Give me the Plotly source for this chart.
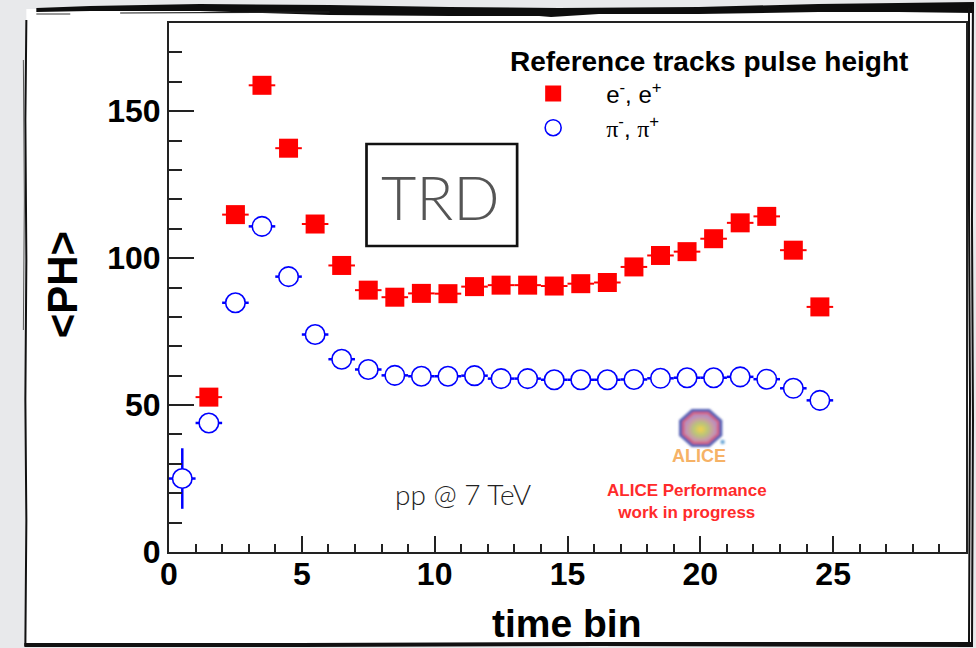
import math
import base64
import plotly.graph_objects as go

# ---------------- data: mean pulse height <PH> per TRD time bin ----------------
pion_bins = [0.5, 1.5, 2.5, 3.5, 4.5, 5.5, 6.5, 7.5, 8.5, 9.5, 10.5, 11.5, 12.5,
             13.5, 14.5, 15.5, 16.5, 17.5, 18.5, 19.5, 20.5, 21.5, 22.5, 23.5, 24.5]
pion_ph = [25.0, 43.9, 84.8, 110.8, 93.7, 74.0, 65.6, 62.1, 60.1, 59.8, 59.8, 60.0, 59.0,
           59.0, 58.6, 58.6, 58.6, 58.7, 59.1, 59.3, 59.3, 59.6, 58.8, 55.7, 51.6]
pion_err = [10.3, 0.8, 0.6, 0.6, 0.5, 0.4, 0.4, 0.3, 0.3, 0.3, 0.3, 0.3, 0.3,
            0.3, 0.3, 0.3, 0.3, 0.3, 0.3, 0.3, 0.3, 0.3, 0.3, 0.3, 0.3]

elec_bins = [1.5, 2.5, 3.5, 4.5, 5.5, 6.5, 7.5, 8.5, 9.5, 10.5, 11.5, 12.5,
             13.5, 14.5, 15.5, 16.5, 17.5, 18.5, 19.5, 20.5, 21.5, 22.5, 23.5, 24.5]
elec_ph = [52.7, 114.8, 158.8, 137.4, 111.6, 97.5, 89.1, 86.7, 88.0, 87.9, 90.3, 90.8,
           90.8, 90.5, 91.3, 91.7, 97.0, 100.9, 102.2, 106.6, 112.0, 114.2, 102.7, 83.4]
elec_err = [2.0, 1.5, 1.5, 1.2, 1.0, 1.0, 0.9, 0.9, 0.9, 0.9, 0.9, 0.9,
            0.9, 0.9, 0.9, 0.9, 1.0, 1.0, 1.0, 1.0, 1.1, 1.1, 1.0, 1.0]

BIN_HALF_WIDTH = 0.5

x_tick_vals = [0, 5, 10, 15, 20, 25]
y_tick_vals = [0, 50, 100, 150]

# ---------------- canvas geometry (pixels) ----------------
FIG_W, FIG_H = 976, 648
L, R, T, B = 169, 968, 23, 552          # plot frame edges
W, H = R - L, B - T


def px(x):
    return (x - L) / W


def py(y):
    return (B - y) / H


def poly(points, **kw):
    d = "M " + " L ".join(f"{px(a):.5f},{py(b):.5f}" for a, b in points) + " Z"
    return dict(type="path", xref="paper", yref="paper", path=d, **kw)


def line_path(points, **kw):
    d = "M " + " L ".join(f"{px(a):.5f},{py(b):.5f}" for a, b in points)
    return dict(type="path", xref="paper", yref="paper", path=d, **kw)


FONT = "Liberation Sans"

fig = go.Figure()

fig.add_trace(go.Scatter(
    x=elec_bins, y=elec_ph, mode="markers",
    name="e<sup>-</sup>, e<sup>+</sup>",
    marker=dict(symbol="square", size=19, color="#ff0000", line=dict(width=0)),
    error_x=dict(type="constant", value=BIN_HALF_WIDTH, color="#ff0000", thickness=2, width=0),
    error_y=dict(type="data", array=elec_err, color="#ff0000", thickness=2, width=0),
))
fig.add_trace(go.Scatter(
    x=pion_bins, y=pion_ph, mode="markers",
    name='<span style="font-family:Liberation Serif">π</span><sup>-</sup>, '
         '<span style="font-family:Liberation Serif">π</span><sup>+</sup>',
    marker=dict(symbol="circle", size=19.5, color="white", line=dict(width=1.6, color="#0000ff")),
    error_x=dict(type="constant", value=BIN_HALF_WIDTH, color="#0000ff", thickness=2.5, width=0),
    error_y=dict(type="data", array=pion_err, color="#0000ff", thickness=2.5, width=0),
))

axis_font = dict(family=FONT, size=32, color="black", weight="bold")

fig.update_xaxes(
    range=[0, 30], tickmode="array", tickvals=x_tick_vals,
    ticks="inside", ticklen=16, tickwidth=1.5, tickcolor="#222",
    showline=True, linewidth=2, linecolor="#222", mirror=True,
    showgrid=False, zeroline=False, tickfont=axis_font, ticklabelstandoff=-7,
    minor=dict(dtick=1, tick0=0, ticks="inside", ticklen=8, tickwidth=1.5,
               tickcolor="#222", showgrid=False),
)
fig.update_yaxes(
    range=[0, 180], tickmode="array", tickvals=y_tick_vals,
    ticks="inside", ticklen=25, tickwidth=1.5, tickcolor="#222",
    showline=True, linewidth=2, linecolor="#222", mirror=True,
    showgrid=False, zeroline=False, tickfont=axis_font,
    minor=dict(dtick=10, tick0=0, ticks="inside", ticklen=13, tickwidth=1.5,
               tickcolor="#222", showgrid=False),
)

# ---------------- sketch-style frame around the canvas ----------------
shapes = [
    dict(type="rect", xref="paper", yref="paper", layer="below",
         x0=px(26), x1=px(973), y0=py(644), y1=py(9),
         fillcolor="white", line=dict(width=0)),
    # top stroke
    poly([(36, 8), (90, 6), (200, 4), (330, 5), (450, 7), (560, 8), (700, 7), (820, 4),
          (900, 3), (976, 2), (976, 13), (900, 12), (820, 12), (700, 14), (600, 14),
          (552, 17), (540, 16), (450, 16), (330, 15), (200, 11), (90, 11), (36, 12)],
         fillcolor="#0d0d0d", line=dict(width=0)),
    line_path([(36, 14), (70, 14)], line=dict(color="#333", width=1)),
    line_path([(120, 13), (330, 12)], line=dict(color="#222", width=1.2)),
    # left stroke
    line_path([(26, 20), (25, 120), (26, 260), (25, 400), (26, 520), (25, 646)],
              line=dict(color="#111", width=2)),
    line_path([(23, 60), (24, 200), (23, 330)], line=dict(color="#555", width=1)),
    # right strokes
    line_path([(971, 8), (971, 200), (972, 400), (971, 645)], line=dict(color="#111", width=2)),
    line_path([(975, 6), (974, 220), (975, 420), (974, 646)], line=dict(color="#111", width=2)),
    # bottom stroke
    poly([(24, 643), (300, 643), (600, 642), (975, 642), (975, 647), (600, 646),
          (300, 647), (24, 647)], fillcolor="#111", line=dict(width=0)),
    # TRD label box
    dict(type="rect", xref="paper", yref="paper",
         x0=px(367), x1=px(518), y0=py(246), y1=py(144),
         line=dict(color="#111", width=2.7), fillcolor="rgba(0,0,0,0)"),
]

# ---------------- ALICE logo (soft, blurred emblem) ----------------
def octagon(cx, cy, rx, ry):
    pts = []
    for k in range(8):
        a = math.radians(22.5 + 45 * k)
        pts.append(f"{cx + rx * math.cos(a):.2f},{cy + ry * math.sin(a):.2f}")
    return " ".join(pts)


cx, cy = 32, 29
svg = f"""<svg xmlns='http://www.w3.org/2000/svg' width='64' height='60' viewBox='0 0 64 60'>
<defs>
<filter id='b' x='-20%' y='-20%' width='140%' height='140%'><feGaussianBlur stdDeviation='1.3'/></filter>
<radialGradient id='g' cx='50%' cy='55%' r='50%'>
<stop offset='0' stop-color='#f3d24e'/><stop offset='0.45' stop-color='#b9c47a'/>
<stop offset='0.8' stop-color='#c99aa8'/><stop offset='1' stop-color='#b78fc0'/>
</radialGradient>
</defs>
<g filter='url(#b)'>
<polygon points='{octagon(cx, cy, 23.5, 20.5)}' fill='#5560b4'/>
<polygon points='{octagon(cx, cy, 20, 17.2)}' fill='#d8607c'/>
<polygon points='{octagon(cx, cy, 17.5, 15)}' fill='url(#g)'/>
<circle cx='54' cy='43' r='2.2' fill='#6aa6d6'/>
</g>
</svg>"""
logo_src = "data:image/svg+xml;base64," + base64.b64encode(svg.encode()).decode()

images = [dict(source=logo_src, xref="paper", yref="paper",
               x=px(670), y=py(399), sizex=64 / W, sizey=60 / H,
               xanchor="left", yanchor="top", sizing="stretch", layer="above")]

annotations = [
    dict(text="&lt;PH&gt;", x=px(62), y=py(285), xref="paper", yref="paper",
         textangle=-90, showarrow=False, xanchor="center", yanchor="middle",
         font=dict(family=FONT, size=42, color="black", weight="bold")),
    dict(text="time bin", x=px(568), y=py(623), xref="paper", yref="paper",
         showarrow=False, xanchor="center", yanchor="middle",
         font=dict(family=FONT, size=39, color="black", weight="bold")),
    dict(text="TRD", x=px(441), y=py(196), xref="paper", yref="paper",
         showarrow=False, xanchor="center", yanchor="middle",
         font=dict(family="Lato", size=61, color="#555555", weight=300)),
    dict(text="pp @ 7 TeV", x=px(464), y=py(494), xref="paper", yref="paper",
         showarrow=False, xanchor="center", yanchor="middle",
         font=dict(family="Lato", size=28, color="#222222", weight=300)),
    dict(text="ALICE", x=px(700), y=py(456), xref="paper", yref="paper",
         showarrow=False, xanchor="center", yanchor="middle",
         font=dict(family=FONT, size=18, color="#f6b266", weight="bold")),
    dict(text="ALICE Performance<br>work in progress", x=px(688), y=py(501),
         xref="paper", yref="paper", showarrow=False, xanchor="center", yanchor="middle",
         align="center",
         font=dict(family=FONT, size=17, color="#ff2b2b", weight="bold")),
]

fig.update_layout(
    width=FIG_W, height=FIG_H,
    margin=dict(l=L, r=FIG_W - R, t=T, b=FIG_H - B, pad=0),
    paper_bgcolor="#e8e9eb", plot_bgcolor="white",
    shapes=shapes, images=images, annotations=annotations,
    showlegend=True,
    legend=dict(
        x=px(501), y=py(35), xanchor="left", yanchor="top",
        bgcolor="rgba(0,0,0,0)", borderwidth=0, itemwidth=96,
        title=dict(text="<b>\u00a0Reference tracks pulse height</b>",
                   font=dict(family=FONT, size=28, color="black")),
        font=dict(family=FONT, size=24, color="black"),
        itemclick=False, itemdoubleclick=False,
    ),
)

fig.write_html("out.html")
